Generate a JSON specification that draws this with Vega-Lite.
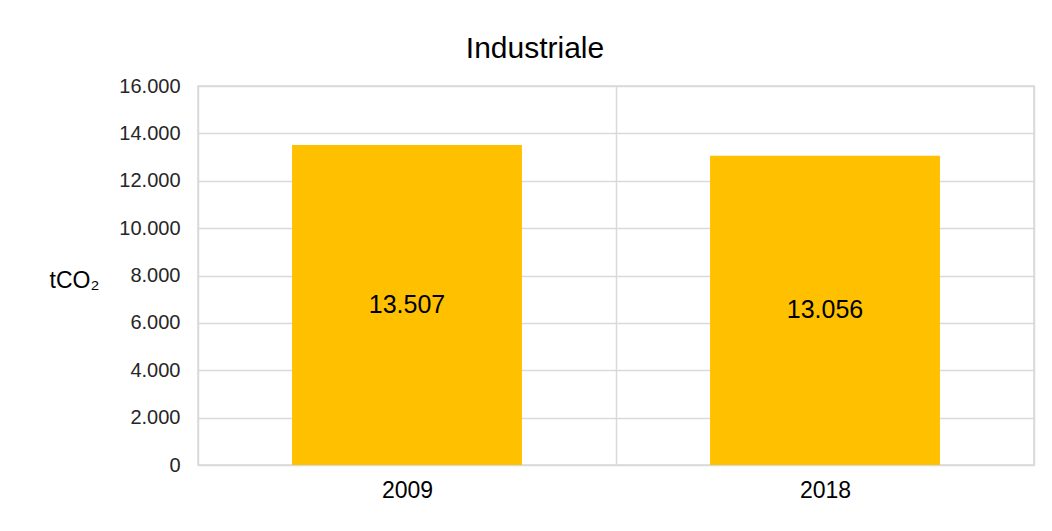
{
  "$schema": "https://vega.github.io/schema/vega-lite/v6.json",
  "width": 836,
  "height": 379,
  "autosize": "none",
  "padding": {"left": 198, "top": 86, "right": 18, "bottom": 66},
  "background": "white",
  "title": {
    "text": "Industriale",
    "anchor": "middle",
    "frame": "group",
    "dx": -81,
    "offset": 12,
    "fontSize": 30,
    "font": "Liberation Sans",
    "fontWeight": "normal",
    "color": "#000000"
  },
  "data": {
    "values": [
      {"anno": "2009", "value": 13507},
      {"anno": "2018", "value": 13056}
    ]
  },
  "encoding": {
    "x": {
      "field": "anno",
      "type": "nominal",
      "scale": {"paddingInner": 0, "paddingOuter": 0},
      "axis": {
        "title": null,
        "labelAngle": 0,
        "labelFontSize": 23,
        "labelPadding": 14,
        "labelColor": "#000000",
        "ticks": false,
        "domain": false,
        "grid": true,
        "tickBand": "extent",
        "gridColor": "#d9d9d9",
        "gridWidth": 1.5
      }
    }
  },
  "layer": [
    {
      "mark": {"type": "bar", "color": "#FFC000", "width": {"band": 0.55}},
      "encoding": {
        "y": {
          "field": "value",
          "type": "quantitative",
          "scale": {"domain": [0, 16000]},
          "axis": {
            "values": [0, 2000, 4000, 6000, 8000, 10000, 12000, 14000, 16000],
            "format": ",.0f",
            "title": "tCO₂",
            "titleAngle": 0,
            "titleAlign": "center",
            "titleBaseline": "middle",
            "titleX": -124,
            "titleY": 194,
            "titleFontSize": 23,
            "titleFontWeight": "normal",
            "titleColor": "#000000",
            "labelFontSize": 20,
            "labelPadding": 18,
            "labelColor": "#262626",
            "ticks": false,
            "domain": false,
            "gridColor": "#d9d9d9",
            "gridWidth": 1.5
          }
        }
      }
    },
    {
      "transform": [{"calculate": "datum.value / 2", "as": "mid"}],
      "mark": {"type": "text", "fontSize": 25, "font": "Liberation Sans", "color": "#000000", "baseline": "middle"},
      "encoding": {
        "y": {"field": "mid", "type": "quantitative"},
        "text": {"field": "value", "type": "quantitative", "format": ",.0f"}
      }
    }
  ],
  "config": {
    "locale": {
      "number": {"decimal": ",", "thousands": ".", "grouping": [3], "currency": ["€", ""]}
    },
    "font": "Liberation Sans",
    "axis": {"labelFont": "Liberation Sans", "titleFont": "Liberation Sans"},
    "view": {"stroke": "#d9d9d9", "strokeWidth": 1.5}
  }
}
